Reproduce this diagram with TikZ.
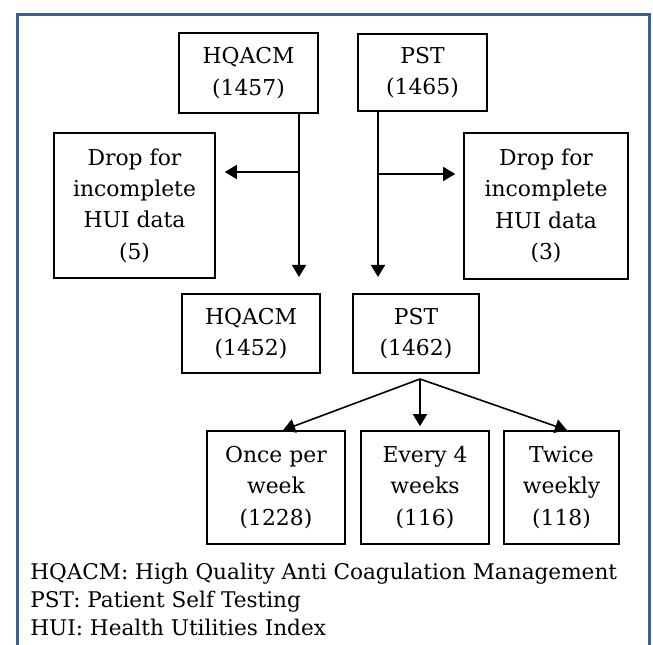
\documentclass[tikz,border=0pt]{standalone}
\usepackage{fontspec}
\setmainfont{DejaVu Serif}
\usetikzlibrary{arrows.meta}
\definecolor{frameblue}{RGB}{58,94,150}
\newlength{\px}
\setlength{\px}{0.75pt}
\tikzset{
  box/.style={draw, line width=1.2pt, align=center, inner sep=0pt, font=\fontsize{16.4}{23.5}\selectfont},
  arr/.style={line width=1.2pt, -{Triangle[length=9pt,width=10.5pt]}},
  legend/.style={anchor=base west, inner sep=0pt, font=\fontsize{16.2}{21.5}\selectfont}
}

\begin{document}
\begin{tikzpicture}[x=0.75pt, y=-0.75pt]
  \useasboundingbox (0,0) rectangle (653,645);
  % blue frame, runs off the bottom
  \draw[frameblue, line width=2.25pt] (17.5,645) -- (17.5,15) -- (649,15) -- (649,645);

  % first row
  \node[box, minimum width=139\px, minimum height=80\px] (hqTop) at (248.5,73) {HQACM\\(1457)};
  \node[box, minimum width=129\px, minimum height=77\px] (pstTop) at (422.5,72.5) {PST\\(1465)};
  % dropped
  \node[box, minimum width=161\px, minimum height=145\px] (hqDrop) at (134.5,205.5) {Drop for\\incomplete\\HUI data\\(5)};
  \node[box, minimum width=164\px, minimum height=146\px] (pstDrop) at (546,206) {Drop for\\incomplete\\HUI data\\(3)};
  % remaining
  \node[box, minimum width=138\px, minimum height=79\px] (hqLeft) at (251,333.5) {HQACM\\(1452)};
  \node[box, minimum width=126\px, minimum height=79\px] (pstLeft) at (416,333.5) {PST\\(1462)};
  % testing frequency
  \node[box, minimum width=138\px, minimum height=113\px] (once) at (276,487.5) {Once per\\week\\(1228)};
  \node[box, minimum width=128\px, minimum height=113\px] (every) at (425,487.5) {Every 4\\weeks\\(116)};
  \node[box, minimum width=115\px, minimum height=113\px] (twice) at (561.5,487.5) {Twice\\weekly\\(118)};

  % HQACM branch
  \coordinate (hqSplit) at (299,172);
  \coordinate (hqEnd) at (299,277);
  \draw[arr] (hqTop.south -| hqEnd) -- (hqEnd);
  \draw[arr, shorten >=6.75pt] (hqSplit) -- (hqSplit -| hqDrop.east);

  % PST branch
  \coordinate (pstSplit) at (378,174);
  \coordinate (pstEnd) at (378,277);
  \draw[arr] (pstTop.south -| pstEnd) -- (pstEnd);
  \draw[arr, shorten >=6pt] (pstSplit) -- (pstSplit -| pstDrop.west);

  % fork to the three groups
  \coordinate (fork) at (420,379);
  \draw[arr] (fork) -- ([xshift=5.25pt]once.north);
  \draw[arr, shorten >=3pt] (fork) -- ([xshift=-3.75pt]every.north);
  \draw[arr] (fork) -- ([xshift=4.1pt]twice.north);

  % legend
  \node[legend] (keyHq) at (30,579) {HQACM: High Quality Anti Coagulation Management};
  \node[legend] (keyPst) at (30,607.5) {PST: Patient Self Testing};
  \node[legend] (keyHui) at (30,635) {HUI: Health Utilities Index};
\end{tikzpicture}
\end{document}
